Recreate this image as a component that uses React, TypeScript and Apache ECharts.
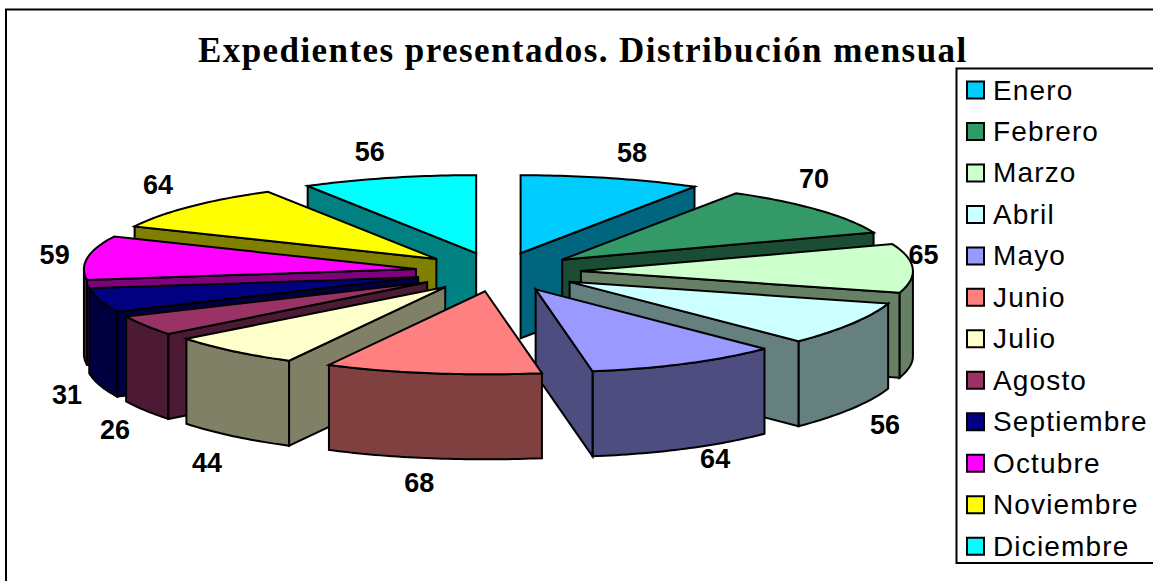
import React, { useEffect, useRef } from "react";
import * as echarts from "echarts";

const chartTitle = "Expedientes presentados. Distribución mensual";
const months = ["Enero", "Febrero", "Marzo", "Abril", "Mayo", "Junio", "Julio", "Agosto", "Septiembre", "Octubre", "Noviembre", "Diciembre"];
const values = [58, 70, 65, 56, 64, 68, 44, 26, 31, 59, 64, 56];
const faceColors = ["#00CCFF", "#339966", "#CCFFCC", "#CCFFFF", "#9999FF", "#FF8080", "#FFFFCC", "#993366", "#000080", "#FF00FF", "#FFFF00", "#00FFFF"];
const sideColors = ["#006680", "#1A4D33", "#668066", "#668080", "#4D4D80", "#804040", "#808066", "#4D1A33", "#000040", "#800080", "#808000", "#008080"];

// Layout of the projected pie (pixels), separate from the data.
const CX = 498;
const CY = 272;
const RX = 332;
const RY = 78;
const DEPTH = 85;
const EXPLODE = 0.25;
const labelNudges: [number, number][] = [
  [21, -25], [-5, -31], [11, -13], [29, 104], [29, 100], [-14, 115],
  [-27, 116], [-29, 107], [-32, 96], [-33, -2], [-32, -22], [-19, -26],
];

const total = values.reduce((a, b) => a + b, 0);
const rad = (d: number) => (d * Math.PI) / 180;

function sliceAngles(i: number) {
  const before = values.slice(0, i).reduce((a, b) => a + b, 0);
  const start = (before / total) * 360;
  const end = ((before + values[i]) / total) * 360;
  return { start, end, mid: (start + end) / 2 };
}

const depthOrder = months
  .map((_, i) => i)
  .sort((a, b) => -Math.cos(rad(sliceAngles(a).mid)) - -Math.cos(rad(sliceAngles(b).mid)));

function renderSlice(params: any, api: any) {
  const i = params.seriesIndex;
  const value = api.value(0);
  const before = values.slice(0, i).reduce((a, b) => a + b, 0);
  const start = (before / total) * 360;
  const end = ((before + value) / total) * 360;
  const mid = (start + end) / 2;
  const ax = CX + EXPLODE * RX * Math.sin(rad(mid));
  const ay = CY - EXPLODE * RY * Math.cos(rad(mid));
  // Front half of the rim is slightly enlarged: the original has perspective.
  const rim = (deg: number, drop = 0): number[] => {
    const s = Math.sin(rad(deg));
    const c = Math.cos(rad(deg));
    const s2 = Math.sin(rad(2 * deg));
    const squeeze = s > 0 ? 0.035 : 0.02;
    const fx = c < 0 ? 1 - squeeze * s2 * s2 + 0.04 * c * c : 1;
    const fy = c < 0 ? 1.065 : 1;
    return [ax + RX * s * fx, ay - RY * c * fy + drop];
  };
  const arc = (from: number, to: number, drop = 0) => {
    const pts: number[][] = [];
    const n = Math.max(2, Math.ceil(to - from));
    for (let k = 0; k <= n; k++) pts.push(rim(from + ((to - from) * k) / n, drop));
    return pts;
  };
  const base = (depthOrder.indexOf(i) + 1) * 10;
  const line = { stroke: "#000", lineWidth: 2, lineJoin: "miter" };
  const side = { fill: sideColors[i], ...line };
  const children: any[] = [];
  const wall = (deg: number) => ({
    type: "polygon",
    z2: base + 1,
    shape: { points: [[ax, ay], rim(deg), rim(deg, DEPTH), [ax, ay + DEPTH]] },
    style: side,
  });
  const from = Math.max(start, 90);
  const to = Math.min(end, 270);
  if (to > from) {
    children.push({
      type: "polygon",
      z2: base,
      shape: { points: [...arc(from, to), ...arc(from, to, DEPTH).reverse()] },
      style: side,
    });
  }
  if (Math.sin(rad(start)) < -1e-6) children.push(wall(start));
  if (Math.sin(rad(end)) > 1e-6) children.push(wall(end));
  children.push({
    type: "polygon",
    z2: base + 2,
    shape: { points: [[ax, ay], ...arc(start, end)] },
    style: { fill: faceColors[i], ...line },
  });
  children.push({
    type: "text",
    z2: 1000,
    style: {
      x: ax + RX * Math.sin(rad(mid)) + labelNudges[i][0],
      y: ay - RY * Math.cos(rad(mid)) + labelNudges[i][1],
      text: String(value),
      font: "bold 27px 'Liberation Sans'",
      fill: "#000",
      textAlign: "center",
      textVerticalAlign: "middle",
    },
  });
  return { type: "group", children };
}

export default function App() {
  const ref = useRef<HTMLDivElement>(null);
  useEffect(() => {
    const chart = echarts.init(ref.current!, undefined, { renderer: "svg" });
    chart.setOption({
      animation: false,
      backgroundColor: "#fff",
      title: {
        text: chartTitle,
        left: 198,
        top: 33,
        padding: 0,
        textStyle: { fontFamily: "Liberation Serif", fontWeight: "bold", fontSize: 35, color: "#000" },
      },
      legend: {
        orient: "vertical",
        left: 966,
        top: 76,
        padding: 0,
        icon: "rect",
        itemWidth: 17,
        itemHeight: 17,
        itemGap: 13.47,
        selectedMode: false,
        itemStyle: { borderColor: "#000", borderWidth: 2 },
        textStyle: { fontFamily: "Liberation Sans", fontSize: 28, lineHeight: 27, color: "#000", padding: [0, 0, 0, 4] },
        data: months,
      },
      graphic: [
        { type: "rect", silent: true, z: 0, shape: { x: 6, y: 9.5, width: 1200, height: 620 }, style: { fill: "none", stroke: "#000", lineWidth: 2 } },
        { type: "rect", silent: true, z: 0, shape: { x: 956.5, y: 68.5, width: 260, height: 494.5 }, style: { fill: "none", stroke: "#000", lineWidth: 2 } },
      ],
      series: months.map((name, i) => ({
        type: "custom",
        name,
        coordinateSystem: "none",
        data: [values[i]],
        itemStyle: { color: faceColors[i] },
        renderItem: renderSlice,
      })),
    });
    return () => chart.dispose();
  }, []);
  return (
    <>
      <style>{`body{margin:0;background:#fff}
text[style*="Liberation Sans"]:not([style*="bold"]){letter-spacing:1.15px}
text[style*="Liberation Serif"]{letter-spacing:1.43px}`}</style>
      <div ref={ref} style={{ position: "fixed", left: 0, top: 0, width: 1153, height: 581 }} />
    </>
  );
}
